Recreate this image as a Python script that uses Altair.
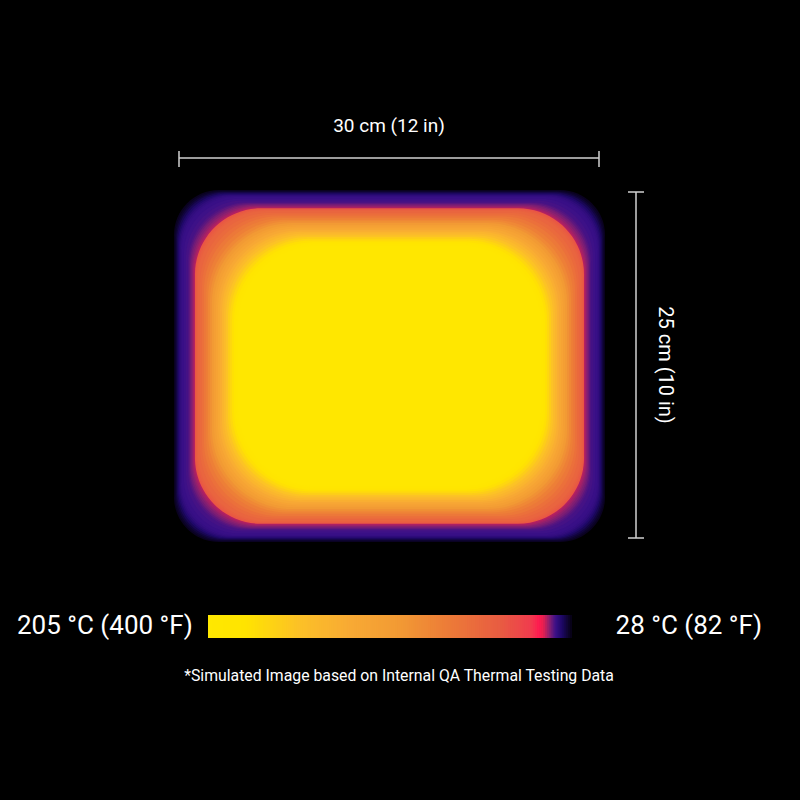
import altair as alt
import pandas as pd
import jinja2

# ---- data ----
# plate outline (cm, origin at the lower-left end of the dimension lines)
plate_left, plate_right = -0.36, 30.43
plate_bottom, plate_top = -0.29, 25.14
width_cm, height_cm = 30, 25

# temperature profile: depth inward from the plate edge (mm) -> temperature (°C)
depth_mm = [0.0, 0.7, 1.4, 2.1, 2.9, 3.6, 4.3, 5.0, 5.7, 7.1, 8.6, 10.0, 10.7,
            11.4, 12.1, 12.9, 13.6, 14.3, 15.0, 15.7, 16.4, 17.1, 18.6, 20.0,
            21.4, 22.9, 24.3, 25.7, 27.1, 28.6, 30.0, 31.4, 32.9, 34.3, 35.7,
            37.1, 38.6, 40.0, 41.4, 42.9, 44.3, 45.7]
temp_c = [29, 29.8, 30.8, 32, 33.2, 34.2, 35, 35.5, 35.8, 36.1, 36.4, 36.8, 37.3,
          38, 38.6, 39.2, 39.8, 40.3, 60, 64, 67, 70, 74, 79,
          85, 91, 98, 105, 112, 119, 126, 133, 140, 148, 155,
          162, 170, 177, 184, 191, 197, 201]

# colour bar
bar_hot, bar_cold = 205, 28
scale_t = [28, 30, 33, 36, 39, 42, 44, 48, 63, 87, 112, 136, 160, 187, 205]
scale_col = ["#050010", "#0e0430", "#1e0868", "#3a1088", "#8a2070", "#e8204f",
             "#ff1a50", "#f03c4e", "#e85c42", "#ec7a38", "#f29a34", "#f8aa34",
             "#fcc028", "#ffe400", "#ffe800"]

labels = {
    "width": "30 cm (12 in)",
    "height": "25 cm (10 in)",
    "hot": "205 °C (400 °F)",
    "cold": "28 °C (82 °F)",
    "note": "*Simulated Image based on Internal QA Thermal Testing Data",
}

# ---- build tables ----
vfac = 0.88
d_cm = [d / 10 for d in depth_mm]
bands = pd.DataFrame({
    "x0": [plate_left + d for d in d_cm],
    "x1": [plate_right - d for d in d_cm],
    "y0": [plate_bottom + d * vfac for d in d_cm],
    "y1": [plate_top - d * vfac for d in d_cm],
    "r": [min(45 + 1.0 * d * 14, 80) for d in d_cm],
    "t": temp_c,
})

bar = pd.DataFrame({"lo": list(range(bar_cold, bar_hot))})
bar["hi"] = [min(v + 1.6, bar_hot) for v in bar["lo"]]
bar["t"] = bar["lo"] + 0.5

color = alt.Color("t:Q", scale=alt.Scale(domain=scale_t, range=scale_col,
                                         interpolate="rgb"), legend=None)

xs = alt.Scale(domain=[0, width_cm], range=[171, 591])
ys = alt.Scale(domain=[0, height_cm], range=[530, 184])

heat = alt.Chart(bands).mark_rect(
    cornerRadius=alt.ExprRef(expr="datum.r"), strokeWidth=0
).encode(
    x=alt.X("x0:Q", scale=xs, axis=None),
    x2="x1:Q",
    y=alt.Y("y0:Q", scale=ys, axis=None),
    y2="y1:Q",
    color=color,
)

colorbar = alt.Chart(bar).mark_rect(strokeWidth=0).encode(
    x=alt.X("lo:Q", scale=alt.Scale(domain=[bar_hot, bar_cold], range=[200, 564]), axis=None),
    x2="hi:Q",
    y=alt.value(607),
    y2=alt.value(630),
    color=color,
)

line_col = "#d0d0d0"
hline = alt.Chart(pd.DataFrame({"a": [0], "b": [width_cm]})).mark_rule(
    color=line_col, strokeWidth=1.5
).encode(x=alt.X("a:Q", scale=xs, axis=None), x2="b:Q", y=alt.value(150))

hticks = alt.Chart(pd.DataFrame({"a": [0, width_cm]})).mark_rule(
    color=line_col, strokeWidth=1.5
).encode(x=alt.X("a:Q", scale=xs, axis=None), y=alt.value(143), y2=alt.value(159))

vline = alt.Chart(pd.DataFrame({"a": [0], "b": [height_cm]})).mark_rule(
    color=line_col, strokeWidth=1.5
).encode(y=alt.Y("a:Q", scale=ys, axis=None), y2="b:Q", x=alt.value(628))

vticks = alt.Chart(pd.DataFrame({"a": [0, height_cm]})).mark_rule(
    color=line_col, strokeWidth=1.5
).encode(y=alt.Y("a:Q", scale=ys, axis=None), x=alt.value(620), x2=alt.value(636))

font = "Roboto"


def txt(key, x, y, size, align="center", angle=0):
    return alt.Chart(pd.DataFrame({"s": [labels[key]]})).mark_text(
        font=font, fontSize=size, color="white", align=align,
        baseline="middle", angle=angle
    ).encode(text="s:N", x=alt.value(x), y=alt.value(y))


texts = [
    txt("width", 381, 118, 19),
    txt("height", 657, 357, 20, angle=90),
    txt("hot", 9, 618, 26, align="left"),
    txt("cold", 754, 618, 26, align="right"),
    txt("note", 391, 668, 15.8),
]

chart = alt.layer(
    heat, colorbar, hline, hticks, vline, vticks, *texts
).resolve_scale(x="independent", y="independent").properties(
    width=784, height=784, padding=0, autosize="none", background="black"
).configure_view(stroke=None)

page = jinja2.Template("""<!DOCTYPE html>
<html>
<head>
  <style>
    body { background: #000000; }
    #{{ output_div }}.vega-embed { width: 100%; display: flex; }
    #{{ output_div }}.vega-embed details,
    #{{ output_div }}.vega-embed details summary { position: relative; }
  </style>
  <script type="text/javascript" src="{{ base_url }}/vega@{{ vega_version }}"></script>
  <script type="text/javascript" src="{{ base_url }}/vega-lite@{{ vegalite_version }}"></script>
  <script type="text/javascript" src="{{ base_url }}/vega-embed@{{ vegaembed_version }}"></script>
</head>
<body>
  <div id="{{ output_div }}"></div>
  <script>
    var spec = {{ spec }};
    var embedOpt = {{ embed_options }};
    vegaEmbed("#{{ output_div }}", spec, embedOpt);
  </script>
</body>
</html>
""")

chart.save("out.html", embed_options={"renderer": "svg", "actions": False},
           template=page)
